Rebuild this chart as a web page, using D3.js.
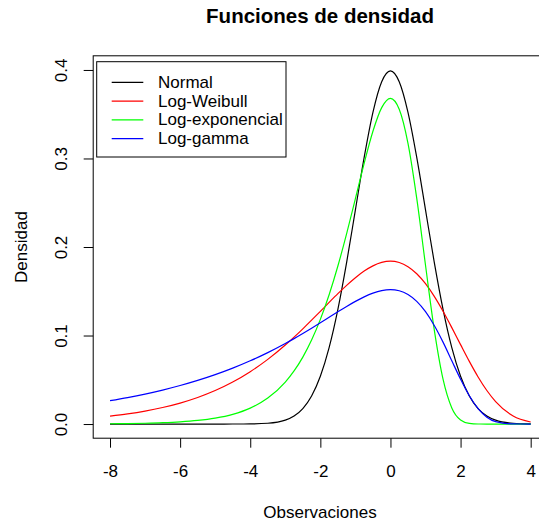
<!DOCTYPE html>
<html>
<head>
<meta charset="utf-8">
<script src="https://cdn.jsdelivr.net/npm/d3@7"></script>
<style>
  body { margin: 0; background: #fff; }
  text { font-family: "Liberation Sans", Arial, sans-serif; fill: #000; }
</style>
</head>
<body>
<svg id="chart"></svg>
<script>
const xObs = [-8, -7.5, -7, -6.5, -6, -5.5, -5, -4.5, -4, -3.5, -3, -2.75, -2.5, -2.25, -2,
  -1.75, -1.5, -1.25, -1, -0.75, -0.5, -0.25, 0, 0.25, 0.5, 0.75, 1, 1.25, 1.5, 1.75, 2,
  2.25, 2.5, 2.75, 3, 3.5, 4];

const normal = [0, 0, 0, 0, 0, 0, 0.000001, 0.000016, 0.000134, 0.000873, 0.004432, 0.009094,
  0.017528, 0.031740, 0.053991, 0.086277, 0.129518, 0.182649, 0.241971, 0.301137, 0.352065,
  0.386668, 0.398942, 0.386668, 0.352065, 0.301137, 0.241971, 0.182649, 0.129518, 0.086277,
  0.053991, 0.031740, 0.017528, 0.009094, 0.004432, 0.000873, 0.000134];

const logWeibull = [0.008993, 0.011486, 0.014649, 0.018650, 0.023685, 0.029985, 0.037808,
  0.047428, 0.059103, 0.073027, 0.089253, 0.098175, 0.107566, 0.117326, 0.127323, 0.137380,
  0.147268, 0.156703, 0.165352, 0.172832, 0.178718, 0.182568, 0.183940, 0.182446, 0.177784,
  0.169797, 0.158518, 0.144222, 0.127439, 0.108933, 0.089687, 0.070767, 0.053211, 0.037884,
  0.025354, 0.009116, 0.002283];

const logExp = [0.000335, 0.000553, 0.000911, 0.001501, 0.002473, 0.004070, 0.006693, 0.010986,
  0.017984, 0.029299, 0.047369, 0.059969, 0.075616, 0.094856, 0.118205, 0.146055, 0.178506,
  0.215132, 0.254646, 0.294535, 0.330704, 0.357435, 0.367879, 0.355568, 0.317036, 0.254878,
  0.179374, 0.106422, 0.050707, 0.018232, 0.004566, 0.000719, 0.000063, 0.000003, 0, 0, 0];

const logGamma = [0.026392, 0.029905, 0.033884, 0.038390, 0.043490, 0.049261, 0.055783, 0.063142,
  0.071420, 0.080690, 0.090987, 0.096514, 0.102272, 0.108236, 0.114357, 0.120569, 0.126770,
  0.132826, 0.138544, 0.143677, 0.147899, 0.150801, 0.151890, 0.150604, 0.146347, 0.138575,
  0.126924, 0.111394, 0.092549, 0.071470, 0.050698, 0.031936, 0.017332, 0.007768, 0.002723,
  0.000119, 0.000001];

const seriesNames = ['Normal', 'Log-Weibull', 'Log-exponencial', 'Log-gamma'];
const seriesColors = ['#000000', '#ff0000', '#00ff00', '#0000ff'];
const seriesValues = [normal, logWeibull, logExp, logGamma];

const xTicks = [-8, -6, -4, -2, 0, 2, 4];
const yTicks = [0, 0.1, 0.2, 0.3, 0.4];

const W = 539, H = 525;
const plot = { left: 93.2, right: 547.5, top: 55.8, bottom: 438.2 };

const svg = d3.select('#chart')
  .attr('width', W)
  .attr('height', H);

svg.append('rect').attr('width', W).attr('height', H).attr('fill', '#fff');

// R pads the data range by 4% on each side
const x = d3.scaleLinear().domain([-8.48, 4.48]).range([plot.left, plot.right]);
const y = d3.scaleLinear().domain([-0.016, 0.416]).range([plot.bottom, plot.top]);

svg.append('defs').append('clipPath').attr('id', 'clip')
  .append('rect')
  .attr('x', plot.left).attr('y', plot.top)
  .attr('width', plot.right - plot.left).attr('height', plot.bottom - plot.top);

const line = d3.line()
  .x(d => x(d[0]))
  .y(d => y(d[1]))
  .curve(d3.curveMonotoneX);

const curves = svg.append('g').attr('clip-path', 'url(#clip)');
seriesValues.forEach((vals, i) => {
  curves.append('path')
    .datum(xObs.map((xv, j) => [xv, vals[j]]))
    .attr('d', line)
    .attr('fill', 'none')
    .attr('stroke', seriesColors[i])
    .attr('stroke-width', 1.2);
});

// axes
const xAxis = svg.append('g')
  .attr('transform', `translate(0,${plot.bottom})`)
  .call(d3.axisBottom(x).tickValues(xTicks).tickSize(9.5).tickSizeOuter(0).tickFormat(d => String(d)));
xAxis.select('.domain').remove();
xAxis.selectAll('line').attr('stroke', '#000').attr('stroke-width', 1);
xAxis.selectAll('text')
  .attr('y', 38.6).attr('dy', null)
  .style('font-size', '17px');

const yAxis = svg.append('g')
  .attr('transform', `translate(${plot.left},0)`)
  .call(d3.axisLeft(y).tickValues(yTicks).tickSize(9.5).tickSizeOuter(0).tickFormat(d3.format('.1f')));
yAxis.select('.domain').remove();
yAxis.selectAll('line').attr('stroke', '#000').attr('stroke-width', 1);
yAxis.selectAll('text')
  .attr('x', null).attr('dy', null)
  .attr('text-anchor', 'middle')
  .attr('transform', 'translate(-26.5,0) rotate(-90)')
  .style('font-size', '17px');

svg.selectAll('.tick text').attr('font-family', null);

// plot box
svg.append('rect')
  .attr('x', plot.left).attr('y', plot.top)
  .attr('width', plot.right - plot.left).attr('height', plot.bottom - plot.top)
  .attr('fill', 'none').attr('stroke', '#000').attr('stroke-width', 1);

// titles
svg.append('text')
  .attr('x', 320).attr('y', 23.3)
  .attr('text-anchor', 'middle')
  .style('font-size', '20.5px').style('font-weight', 'bold')
  .text('Funciones de densidad');

svg.append('text')
  .attr('x', 320).attr('y', 518.3)
  .attr('text-anchor', 'middle')
  .style('font-size', '17px')
  .text('Observaciones');

svg.append('text')
  .attr('transform', 'translate(26.7,247) rotate(-90)')
  .attr('text-anchor', 'middle')
  .style('font-size', '17px')
  .text('Densidad');

// legend
const legend = svg.append('g');
legend.append('rect')
  .attr('x', 96.7).attr('y', 61.7)
  .attr('width', 189.3).attr('height', 95.3)
  .attr('fill', '#fff').attr('stroke', '#000').attr('stroke-width', 1);

seriesNames.forEach((name, i) => {
  const ly = 82.3 + i * 18.8;
  legend.append('line')
    .attr('x1', 111.7).attr('x2', 143.3)
    .attr('y1', ly).attr('y2', ly)
    .attr('stroke', seriesColors[i]).attr('stroke-width', 1.2);
  legend.append('text')
    .attr('x', 158).attr('y', ly + 5.5)
    .style('font-size', '17px')
    .text(name);
});
</script>
</body>
</html>
